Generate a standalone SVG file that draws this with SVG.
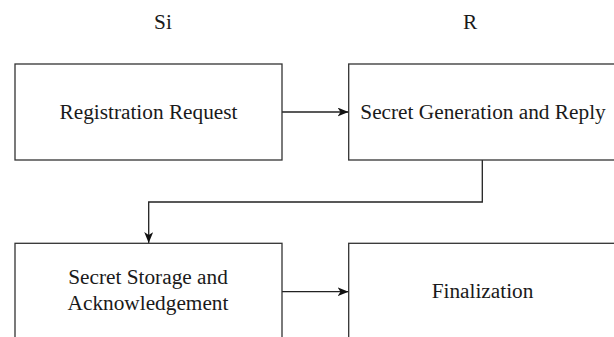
<svg xmlns="http://www.w3.org/2000/svg" width="614" height="337" viewBox="0 0 614 337">
<style>
.box{fill:#fff;stroke:#333;stroke-width:1.3}
.conn{fill:none;stroke:#222;stroke-width:1.3}
.t{font-size:21.3px;fill:#1a1a1a;text-anchor:middle}
</style>
<defs>
<marker id="arr" viewBox="0 0 11 9" refX="11" refY="4.5" markerWidth="11" markerHeight="9" markerUnits="userSpaceOnUse" orient="auto">
<path d="M0,0 L11,4.5 L0,9 L3,4.5 Z" fill="#111"/>
</marker>
</defs>
<rect width="614" height="337" fill="#fff"/>
<g font-family="Liberation Serif, Tinos, DejaVu Serif, serif">
<g id="lane-labels">
<text class="t" x="163" y="29">Si</text>
<text class="t" x="470" y="28.5">R</text>
</g>
<g id="connectors">
<path class="conn" d="M282,112 H348.5" marker-end="url(#arr)"/>
<path class="conn" d="M482.3,160 V202 H148.7 V243" marker-end="url(#arr)"/>
<path class="conn" d="M282,291.7 H348.5" marker-end="url(#arr)"/>
</g>
<g id="node-registration">
<rect class="box" x="15" y="64" width="267" height="96"/>
<text class="t" x="148.5" y="118.8">Registration Request</text>
</g>
<g id="node-secret-generation">
<rect class="box" x="348.7" y="64" width="267" height="96"/>
<text class="t" x="483" y="118.8">Secret Generation and Reply</text>
</g>
<g id="node-secret-storage">
<rect class="box" x="15" y="243.3" width="267" height="96"/>
<text class="t" x="148" y="284.3">Secret Storage and</text>
<text class="t" x="148" y="310">Acknowledgement</text>
</g>
<g id="node-finalization">
<rect class="box" x="348.7" y="243.3" width="267" height="96"/>
<text class="t" x="482.5" y="297.5">Finalization</text>
</g>
</g>
</svg>
